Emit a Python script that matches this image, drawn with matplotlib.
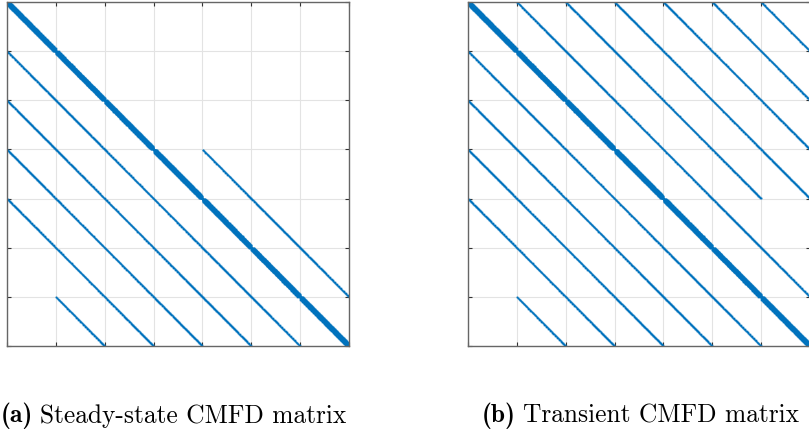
import numpy as np
import matplotlib
matplotlib.use("Agg")
import matplotlib.pyplot as plt

# ---------------- data ----------------
n_groups = 7
cells_per_group = 120
# diagonals present inside each diagonal (within-group) block
inner_offsets = [-6, -4, -2, -1, 0, 1, 2, 4, 6]
# group-to-group coupling blocks (row group, column group) of the steady-state matrix
steady_coupling = [(1, 0), (2, 1), (3, 2), (4, 3), (5, 4), (6, 5),
                   (2, 0), (3, 1), (4, 2), (5, 3), (6, 4),
                   (3, 0), (4, 1), (5, 2), (6, 3),
                   (4, 0), (5, 1), (6, 2),
                   (6, 1),
                   (3, 4), (4, 5), (5, 6)]
# transient adds fission coupling: emitting groups x all source groups
fission_rows = [0, 1, 2, 3]
fission_cols = [0, 1, 2, 3, 4, 5, 6]
captions = ["Steady-state CMFD matrix", "Transient CMFD matrix"]
labels = ["(a)", "(b)"]


def build(blocks):
    N = cells_per_group
    n = n_groups * N
    M = np.zeros((n, n), dtype=bool)
    idx = np.arange(N)
    for g in range(n_groups):
        for k in inner_offsets:
            r = idx[(idx + k >= 0) & (idx + k < N)]
            M[g * N + r, g * N + r + k] = True
    for (i, j) in blocks:
        M[i * N + idx, j * N + idx] = True
    return M


steady = build(steady_coupling)
trans_blocks = list(steady_coupling) + [(i, j) for i in fission_rows for j in fission_cols if i != j]
transient = build(trans_blocks)

# ---------------- plot ----------------
W, H = 809, 446
fig = plt.figure(figsize=(W / 100, H / 100), dpi=100)
blue = "#0072BD"

axes_px = [(7, 2, 342, 344), (468, 2, 342, 344)]
n = n_groups * cells_per_group
bounds = [k * cells_per_group - 0.5 for k in range(n_groups + 1)]

for (x0, y0, w, h), M in zip(axes_px, [steady, transient]):
    ax = fig.add_axes([x0 / W, (H - y0 - h) / H, w / W, h / H])
    ax.spy(M, marker="s", markersize=1.1, markeredgewidth=0, color=blue, aspect="auto")
    ax.set_xlim(-0.5, n - 0.5)
    ax.set_ylim(n - 0.5, -0.5)
    ax.set_xticks(bounds)
    ax.set_yticks(bounds)
    ax.set_xticklabels([])
    ax.set_yticklabels([])
    ax.tick_params(direction="in", length=3, width=0.8, color="#333333",
                   top=True, bottom=True, left=True, right=True,
                   labeltop=False, labelbottom=False)
    ax.grid(True, color="#e3e3e3", linewidth=0.8)
    ax.set_axisbelow(True)
    for s in ax.spines.values():
        s.set_color("#666666")
        s.set_linewidth(1.0)

cap_x = [1, 482]
fig.canvas.draw()
renderer = fig.canvas.get_renderer()
for x, lab, cap in zip(cap_x, labels, captions):
    t = fig.text(x / W, 1 - 416 / H, lab, family="cmb10", fontsize=18.3,
                 va="center", ha="left", color="black")
    wpx = t.get_window_extent(renderer).width
    fig.text((x + wpx + 7) / W, 1 - 416 / H, cap, family="cmr10", fontsize=18.3,
             va="center", ha="left", color="black")

fig.savefig("out.png", dpi=100)
